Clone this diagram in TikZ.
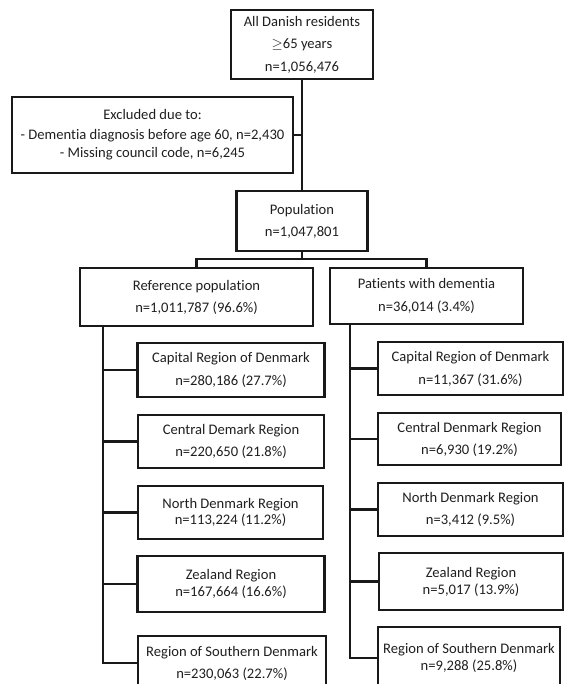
\documentclass[tikz,border=0pt]{standalone}
\usepackage{fontspec}
\setmainfont{Carlito}[Ligatures=NoCommon]
\begin{document}
\begin{tikzpicture}[x=1pt,y=-1pt,
  box/.style={draw=black!90, line width=2.8pt, align=center, inner sep=0pt, outer sep=0pt,
    font=\fontsize{14.6}{16.5}\selectfont, text=black!88},
  conn/.style={draw=black!90, line width=2.9pt}]
\useasboundingbox (0,0) rectangle (565,684);
\clip (0,0) rectangle (565,684);
% top part
\node[box, minimum width=142pt, minimum height=69pt] (top) at (302,44.5)
  {All Danish residents\\[6pt]$\geq$65 years\\[6pt]n=1,056,476};
\node[box, minimum width=281pt, minimum height=76pt] (excl) at (152.5,135)
  {Excluded due to:\\[3.5pt]- Dementia diagnosis before age 60, n=2,430\\[1.5pt]- Missing council code, n=6,245};
\node[box, minimum width=131pt, minimum height=60pt] (pop) at (302,221)
  {Population\\[5.5pt]n=1,047,801};
\node[box, minimum width=233pt, minimum height=58pt] (ref) at (196.5,297)
  {Reference population\\[5.5pt]n=1,011,787 (96.6\%)};
\node[box, minimum width=193pt, minimum height=56pt] (pat) at (426.5,296)
  {Patients with dementia\\[6pt]n=36,014 (3.4\%)};
% left column
\node[box, minimum width=187pt, minimum height=54pt] (capL) at (231,370)
  {Capital Region of Denmark\\[7pt]n=280,186 (27.7\%)};
\node[box, minimum width=186pt, minimum height=53pt] (cenL) at (231,441.5)
  {Central Demark Region\\[5.5pt]n=220,650 (21.8\%)};
\node[box, minimum width=185pt, minimum height=53pt] (norL) at (230.5,512.5)
  {North Denmark Region\\[-0.5pt]n=113,224 (11.2\%)};
\node[box, minimum width=187pt, minimum height=56pt] (zeaL) at (231,584)
  {Zealand Region\\[0pt]n=167,664 (16.6\%)};
\node[box, minimum width=188pt, minimum height=54pt] (souL) at (232,663)
  {Region of Southern Denmark\\[5.5pt]n=230,063 (22.7\%)};
% right column
\node[box, minimum width=185pt, minimum height=53pt] (capR) at (470.5,368.5)
  {Capital Region of Denmark\\[6.5pt]n=11,367 (31.6\%)};
\node[box, minimum width=183pt, minimum height=52pt] (cenR) at (469.5,439)
  {Central Denmark Region\\[5.5pt]n=6,930 (19.2\%)};
\node[box, minimum width=185pt, minimum height=53pt] (norR) at (470.5,509.5)
  {North Denmark Region\\[5.5pt]n=3,412 (9.5\%)};
\node[box, minimum width=184pt, minimum height=57pt] (zeaR) at (471,581.5)
  {Zealand Region\\[0.5pt]n=5,017 (13.9\%)};
\node[box, minimum width=182pt, minimum height=62pt] (souR) at (469,658)
  {Region of Southern Denmark\\[0.5pt]n=9,288 (25.8\%)};
% connectors
\draw[conn] (top.south) -- (pop.north);
\draw[conn] (excl.east) -- (excl.east -| top.south);
\coordinate (bj) at (302,259);
\draw[conn] (pop.south) -- (bj);
\draw[conn] (ref.north) |- (bj) -| (pat.north);
\coordinate (spL) at (103,326);
\coordinate (spR) at (350,324);
\draw[conn] (spL) |- (souL.west);
\draw[conn] (capL.west) -- (capL.west -| spL);
\draw[conn] (cenL.west) -- (cenL.west -| spL);
\draw[conn] (norL.west) -- (norL.west -| spL);
\draw[conn] (zeaL.west) -- (zeaL.west -| spL);
\draw[conn] (spR) |- (souR.west);
\draw[conn] (capR.west) -- (capR.west -| spR);
\draw[conn] (cenR.west) -- (cenR.west -| spR);
\draw[conn] (norR.west) -- (norR.west -| spR);
\draw[conn] (zeaR.west) -- (zeaR.west -| spR);
\end{tikzpicture}
\end{document}
